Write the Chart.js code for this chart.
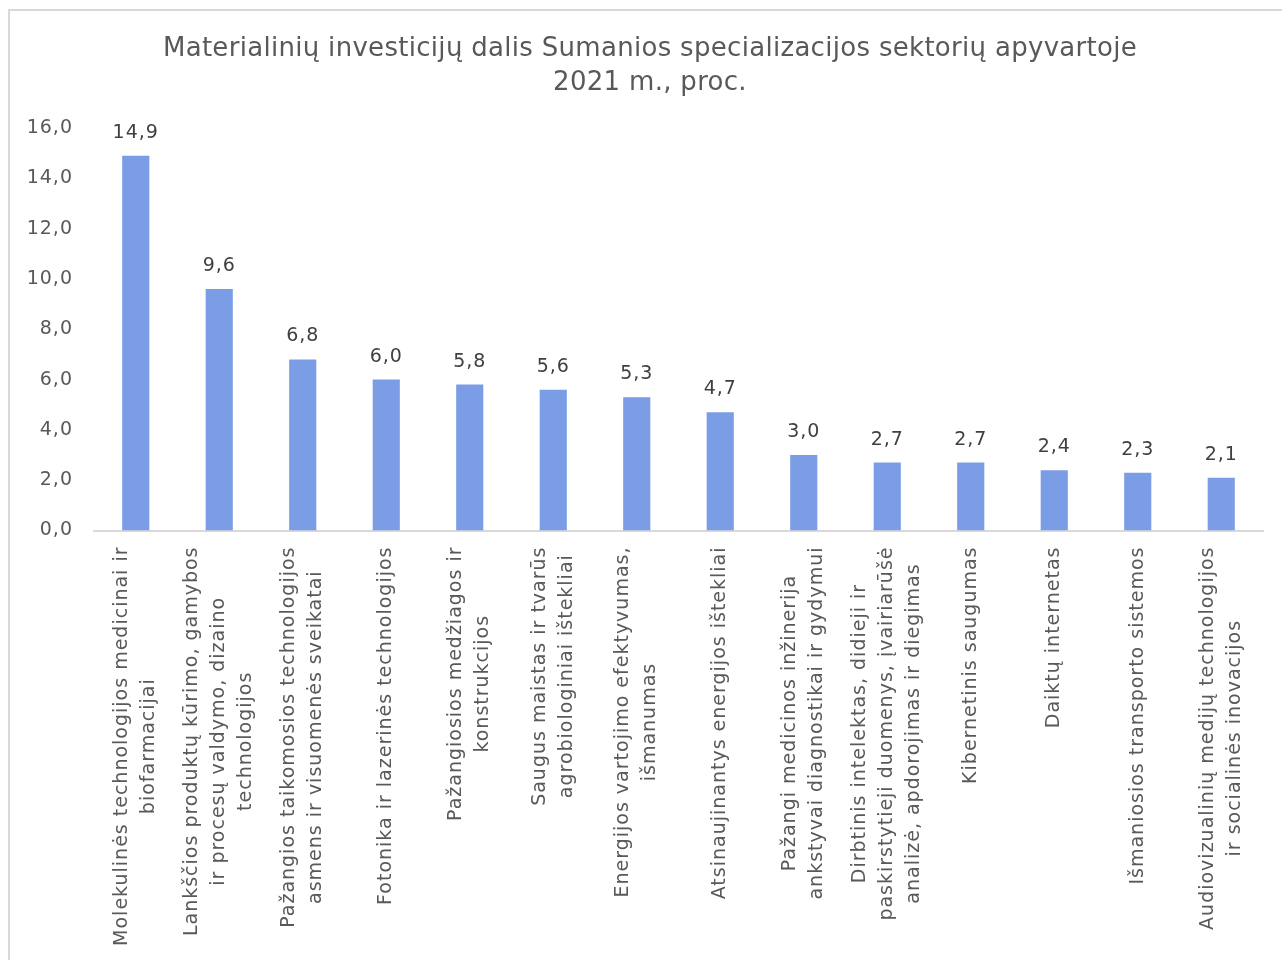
<!DOCTYPE html>
<html>
<head>
<meta charset="utf-8">
<script src="https://cdn.jsdelivr.net/npm/chart.js@4.4.1/dist/chart.umd.min.js"></script>
<style>
  html, body { margin: 0; padding: 0; background: #fff; overflow: hidden; }
  #frame { position: absolute; left: 8px; top: 9px; width: 1300px; height: 1000px; border: 2px solid #d9d9d9; box-sizing: border-box; }
  #wrap { position: absolute; left: 0; top: 0; width: 1282px; height: 960px; }
</style>
</head>
<body>
<div id="frame"></div>
<div id="wrap"><canvas id="c" width="1282" height="960"></canvas></div>
<script>
const titleLines = ["Materialinių investicijų dalis Sumanios specializacijos sektorių apyvartoje", "2021 m., proc."];

const categories = [
  ["Molekulinės technologijos medicinai ir", "biofarmacijai"],
  ["Lankščios produktų kūrimo, gamybos", "ir procesų valdymo, dizaino", "technologijos"],
  ["Pažangios taikomosios technologijos", "asmens ir visuomenės sveikatai"],
  ["Fotonika ir lazerinės technologijos"],
  ["Pažangiosios medžiagos ir", "konstrukcijos"],
  ["Saugus maistas ir tvarūs", "agrobiologiniai ištekliai"],
  ["Energijos vartojimo efektyvumas,", "išmanumas"],
  ["Atsinaujinantys energijos ištekliai"],
  ["Pažangi medicinos inžinerija", "ankstyvai diagnostikai ir gydymui"],
  ["Dirbtinis intelektas, didieji ir", "paskirstytieji duomenys, įvairiarūšė", "analizė, apdorojimas ir diegimas"],
  ["Kibernetinis saugumas"],
  ["Daiktų internetas"],
  ["Išmaniosios transporto sistemos"],
  ["Audiovizualinių medijų technologijos", "ir socialinės inovacijos"]
];

const values = [14.9, 9.6, 6.8, 6.0, 5.8, 5.6, 5.3, 4.7, 3.0, 2.7, 2.7, 2.4, 2.3, 2.1];

const yTicks = [0, 2, 4, 6, 8, 10, 12, 14, 16];

const FONT = "'DejaVu Sans', Verdana, sans-serif";
const fmt = v => v.toFixed(1).replace('.', ',');

const spacing = {
  id: 'spacing',
  afterLayout(chart) { chart.scales.y.left = 0; },
  beforeDraw(chart) { chart.ctx.letterSpacing = '0.3px'; },
  afterDatasetsDraw(chart) { chart.ctx.letterSpacing = '1px'; },
  afterDraw(chart) { chart.ctx.letterSpacing = '0px'; }
};

const valueLabels = {
  id: 'valueLabels',
  afterDatasetsDraw(chart) {
    const ctx = chart.ctx;
    const meta = chart.getDatasetMeta(0);
    ctx.save();
    ctx.letterSpacing = '1px';
    ctx.font = "19px " + FONT;
    ctx.fillStyle = '#404040';
    ctx.textAlign = 'center';
    ctx.textBaseline = 'middle';
    meta.data.forEach((bar, i) => {
      ctx.fillText(fmt(values[i]), bar.x, bar.y - 23);
    });
    ctx.restore();
  }
};

const xLabels = {
  id: 'xLabels',
  afterDraw(chart) {
    const ctx = chart.ctx;
    const scale = chart.scales.x;
    const top = chart.chartArea.bottom + 16;
    ctx.save();
    ctx.letterSpacing = '1px';
    ctx.font = "19px " + FONT;
    ctx.fillStyle = '#595959';
    ctx.textAlign = 'center';
    ctx.textBaseline = 'middle';
    categories.forEach((lines, i) => {
      const x = scale.getPixelForTick(i);
      const maxW = Math.max(...lines.map(l => ctx.measureText(l).width));
      ctx.save();
      ctx.translate(x, top);
      ctx.rotate(-Math.PI / 2);
      lines.forEach((l, j) => {
        ctx.fillText(l, -maxW / 2, (j - (lines.length - 1) / 2) * 27.3);
      });
      ctx.restore();
    });
    ctx.restore();
  }
};

new Chart(document.getElementById('c'), {
  type: 'bar',
  data: {
    labels: categories,
    datasets: [{
      data: values,
      backgroundColor: '#7b9de6',
      borderWidth: 0,
      barPercentage: 0.65,
      categoryPercentage: 0.5
    }]
  },
  options: {
    responsive: false,
    animation: false,
    layout: { padding: { left: 37, right: 19, top: 33, bottom: 0 } },
    plugins: {
      legend: { display: false },
      tooltip: { enabled: false },
      title: {
        display: true,
        text: titleLines,
        color: '#595959',
        font: { family: FONT, size: 26, weight: 'normal', lineHeight: 1.28 },
        padding: { top: 0, bottom: 28.5 }
      }
    },
    scales: {
      x: {
        grid: { display: false, drawTicks: false },
        border: { display: true, color: '#d9d9d9', width: 2 },
        ticks: { display: false },
        afterFit(s) { s.height = 960 - 530.5; }
      },
      y: {
        min: 0,
        max: 16,
        grid: { display: false, drawTicks: false },
        border: { display: false },
        afterBuildTicks(s) { s.ticks = yTicks.map(v => ({ value: v })); },
        ticks: {
          z: 1,
          color: '#595959',
          font: { family: FONT, size: 19 },
          padding: 21,
          callback: v => fmt(v)
        },
        afterFit(s) { s.width = 94 - 37; }
      }
    }
  },
  plugins: [spacing, valueLabels, xLabels]
});
</script>
</body>
</html>
